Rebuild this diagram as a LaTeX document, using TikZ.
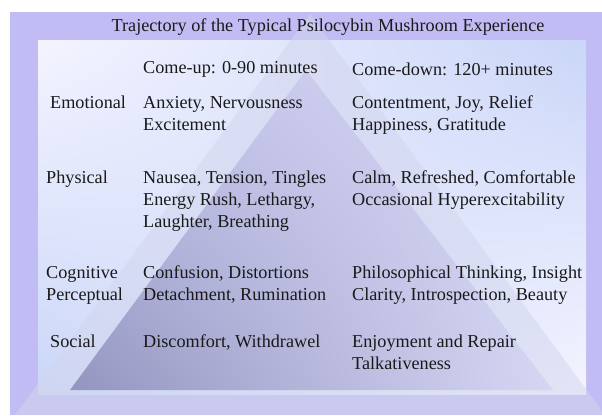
\documentclass[tikz,border=0pt]{standalone}
\usepackage{fontspec}
\setmainfont{Liberation Serif}
\usetikzlibrary{shadings}

\begin{document}
\begin{tikzpicture}[x=1pt, y=-1pt,
    cell/.style={anchor=base west, inner sep=0pt, align=left, text=textColour,
        font=\fontsize{18.2}{22}\selectfont}]
    % Define colours
    \definecolor{textColour}{HTML}{1A1A1A}
    \definecolor{frameColour}{HTML}{C2BCF4}
    \definecolor{paleColour}{HTML}{F4F4FF}
    \definecolor{skyColour}{HTML}{CAD6F8}
    \definecolor{veilColour}{HTML}{D2D6EE}
    \definecolor{slateColour}{HTML}{9395C0}
    \definecolor{mauveColour}{HTML}{C2C2EA}
    \definecolor{lilacColour}{HTML}{D6D6F4}

    % Define column positions
    \def\colA{46}
    \def\colB{143}
    \def\colC{352}

    % Fix the page size
    \useasboundingbox (0,0) rectangle (602,415);

    % Draw frame and inner panel
    \fill[frameColour] (10,12) rectangle (602,415);
    \shade[upper left=paleColour, upper right=skyColour,
        lower left=skyColour, lower right=paleColour] (38,40) rectangle (586,394);

    % Draw the large pale pyramid
    \fill[veilColour, fill opacity=0.5] (310,14) -- (605,415) -- (15,415) -- cycle;

    % Draw the inner dark pyramid
    \shade[upper left=mauveColour, upper right=lilacColour,
        lower left=slateColour, lower right=lilacColour] (306,70) -- (553,390) -- (70,390) -- cycle;

    % Title and column headers (multi-line cells sit on their last line)
    \node[cell, anchor=base] (title) at (328,31) {Trajectory of the Typical Psilocybin Mushroom Experience};
    \node[cell] (comeup) at (\colB,73) {Come-up: 0-90 minutes};
    \node[cell] (comedown) at (\colC,75) {Come-down: 120+ minutes};

    % Emotional row
    \node[cell] (emotional) at (50,108) {Emotional};
    \node[cell] (emotionalUp) at (\colB,130) {Anxiety, Nervousness\\Excitement};
    \node[cell] (emotionalDown) at (\colC,130) {Contentment, Joy, Relief\\Happiness, Gratitude};

    % Physical row
    \node[cell] (physical) at (\colA,183) {Physical};
    \node[cell] (physicalUp) at (\colB,227) {Nausea, Tension, Tingles\\Energy Rush, Lethargy,\\Laughter, Breathing};
    \node[cell] (physicalDown) at (\colC,205) {Calm, Refreshed, Comfortable\\Occasional Hyperexcitability};

    % Cognitive row
    \node[cell] (cognitive) at (\colA,300) {Cognitive\\Perceptual};
    \node[cell] (cognitiveUp) at (\colB,300) {Confusion, Distortions\\Detachment, Rumination};
    \node[cell] (cognitiveDown) at (\colC,300) {Philosophical Thinking, Insight\\Clarity, Introspection, Beauty};

    % Social row
    \node[cell] (social) at (50,347) {Social};
    \node[cell] (socialUp) at (\colB,347) {Discomfort, Withdrawel};
    \node[cell] (socialDown) at (\colC,369) {Enjoyment and Repair\\Talkativeness};
\end{tikzpicture}
\end{document}
